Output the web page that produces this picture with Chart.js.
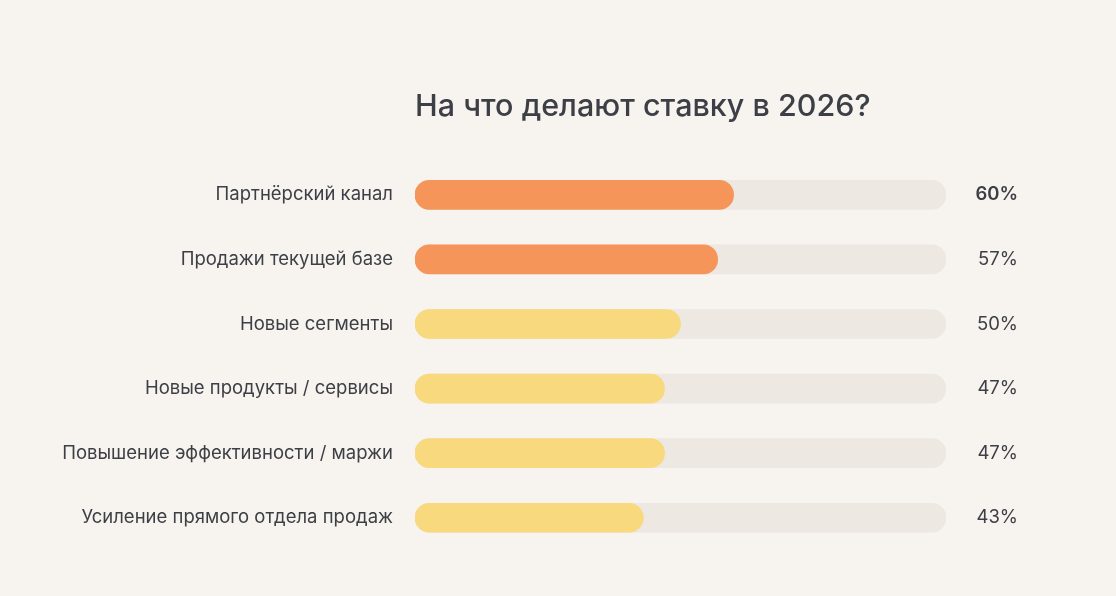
<!DOCTYPE html>
<html>
<head>
<meta charset="utf-8">
<script src="https://cdn.jsdelivr.net/npm/chart.js@4/dist/chart.umd.min.js"></script>
<style>
  html, body { margin: 0; padding: 0; background: #f7f3ee; }
  #wrap { width: 1116px; height: 596px; }
</style>
</head>
<body>
<div id="wrap"><canvas id="chart" width="1116" height="596"></canvas></div>
<script>
const categories = [
    'Партнёрский канал',
    'Продажи текущей базе',
    'Новые сегменты',
    'Новые продукты / сервисы',
    'Повышение эффективности / маржи',
    'Усиление прямого отдела продаж'
];
const values = [60, 57, 50, 47, 47, 43];
const barColors = ['#f5955a', '#f5955a', '#f8d97e', '#f8d97e', '#f8d97e', '#f8d97e'];
const trackMax = 100;

const textColor = '#3d3f46';
const fontFamily = 'Inter, "Noto Sans", sans-serif';

// percentage labels on the right
const valueLabels = {
    id: 'valueLabels',
    afterDatasetsDraw(chart) {
        const ctx = chart.ctx;
        const meta = chart.getDatasetMeta(1);
        const maxVal = Math.max(...values);
        ctx.save();
        ctx.fillStyle = textColor;
        ctx.textAlign = 'right';
        ctx.textBaseline = 'middle';
        meta.data.forEach((bar, i) => {
            ctx.font = (values[i] === maxVal ? '600 ' : '400 ') + '18.5px ' + fontFamily;
            ctx.fillText(values[i] + '%', 1018, bar.y);
        });
        ctx.restore();
    }
};

new Chart(document.getElementById('chart'), {
    type: 'bar',
    data: {
        labels: categories,
        datasets: [
            {
                label: 'track',
                data: values.map(() => trackMax),
                backgroundColor: '#ede8e2',
                borderRadius: 15,
                borderSkipped: false,
                barThickness: 29,
                grouped: false,
                order: 2
            },
            {
                label: 'share',
                data: values,
                backgroundColor: barColors,
                borderRadius: 15,
                borderSkipped: false,
                barThickness: 29,
                grouped: false,
                order: 1
            }
        ]
    },
    options: {
        indexAxis: 'y',
        responsive: false,
        animation: false,
        layout: { padding: { left: 0, right: 170, top: 0, bottom: 46 } },
        scales: {
            x: { display: false, min: 0, max: trackMax },
            y: {
                grid: { display: false },
                border: { display: false },
                ticks: {
                    color: textColor,
                    padding: 14,
                    font: { family: fontFamily, size: 18.5 }
                },
                afterFit(scale) { scale.width = 415; }
            }
        },
        plugins: {
            legend: { display: false },
            tooltip: { enabled: false },
            title: {
                display: true,
                text: 'На что делают ставку в 2026?',
                align: 'start',
                fullSize: false,
                color: textColor,
                font: { family: fontFamily, size: 30.5, weight: '500' },
                padding: { top: 89, bottom: 37 }
            }
        }
    },
    plugins: [valueLabels]
});
</script>
</body>
</html>
